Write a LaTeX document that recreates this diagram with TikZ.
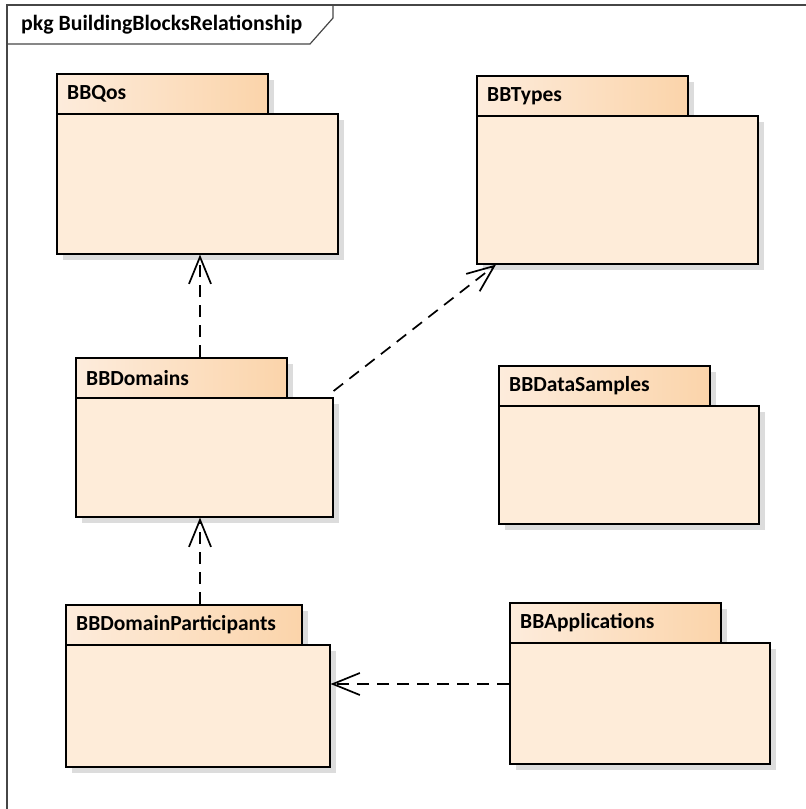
\documentclass[tikz,border=0pt]{standalone}
\usepackage{fontspec}
\setmainfont{Carlito}
\usetikzlibrary{arrows.meta,shadows,calc}
\definecolor{bodyfill}{RGB}{254,236,217}
\definecolor{tableft}{RGB}{253,236,220}
\definecolor{tabright}{RGB}{251,212,170}
\definecolor{shadowgray}{RGB}{220,220,220}
\definecolor{framegray}{RGB}{70,70,70}
\begin{document}
\begin{tikzpicture}[x=1pt,y=-1pt,
  pkgbody/.style={draw=black,line width=1.6pt,fill=bodyfill,rectangle,anchor=north west,inner sep=0pt,
    general shadow={shadow xshift=6pt,shadow yshift=-6pt,fill=shadowgray}},
  pkgtab/.style={draw=black,line width=1.6pt,left color=tableft,right color=tabright,rectangle,anchor=north west,
    inner sep=0pt,minimum height=40pt,text depth=0pt,
    general shadow={shadow xshift=6pt,shadow yshift=-6pt,fill=shadowgray}},
  pkglabel/.style={anchor=west,font=\fontsize{21.5}{25}\selectfont\bfseries,inner sep=0pt},
  dep/.style={line width=1.7pt,dash pattern=on 12pt off 8pt,-{Straight Barb[length=27pt,width=22pt,line width=1.7pt]}}
]
\useasboundingbox (0,0) rectangle (806,809);
% frame
\draw[framegray,line width=1.2pt] (7,815) -- (7,5) -- (810,5);
\draw[framegray,line width=1.2pt] (7,44) -- (310,44) -- (333,18) -- (333,5);
\node[anchor=west,inner sep=0pt,font=\fontsize{21.8}{25}\selectfont\bfseries] (title) at (21,24.5) {pkg BuildingBlocksRelationship};

% BBQos
\node[pkgtab,minimum width=211pt] (qostab) at (56,73) {};
\node[pkgbody,minimum width=281pt,minimum height=140pt] (qos) at (56,113) {};
\node[pkglabel] (qoslbl) at ($(qostab.west)+(11,0)$) {BBQos};
% BBTypes
\node[pkgtab,minimum width=211pt] (typestab) at (476,75) {};
\node[pkgbody,minimum width=281pt,minimum height=148pt] (types) at (476,115) {};
\node[pkglabel] (typeslbl) at ($(typestab.west)+(11,0)$) {BBTypes};
% BBDomains
\node[pkgtab,minimum width=211pt] (domtab) at (75,357) {};
\node[pkgbody,minimum width=257pt,minimum height=119pt] (dom) at (75,397) {};
\node[pkglabel] (domlbl) at ($(domtab.west)+(11,0)$) {BBDomains};
% BBDataSamples
\node[pkgtab,minimum width=211pt] (datatab) at (498,365) {};
\node[pkgbody,minimum width=260pt,minimum height=118pt] (data) at (498,405) {};
\node[pkglabel] (datalbl) at ($(datatab.west)+(11,0)$) {BBDataSamples};
% BBDomainParticipants
\node[pkgtab,minimum width=236pt] (parttab) at (65,604) {};
\node[pkgbody,minimum width=264pt,minimum height=122pt] (part) at (65,644) {};
\node[pkglabel] (partlbl) at ($(parttab.west)+(11,0)$) {BBDomainParticipants};
% BBApplications
\node[pkgtab,minimum width=211pt] (apptab) at (509,602) {};
\node[pkgbody,minimum width=260pt,minimum height=121pt] (app) at (509,642) {};
\node[pkglabel] (applbl) at ($(apptab.west)+(11,0)$) {BBApplications};

% dependencies
\draw[dep] ($(domtab.north west)+(125,0)$) -- ($(qos.south west)+(144,0)$);
\draw[dep] ($(dom.north east)+(0,-6)$) -- ($(types.south west)+(20,0)$);
\draw[dep] ($(parttab.north west)+(135,0)$) -- ($(dom.south west)+(125,0)$);
\coordinate (appin) at ($(app.north west)+(0,42)$);
\draw[dep] (appin) -- (part.east |- appin);
\end{tikzpicture}
\end{document}
